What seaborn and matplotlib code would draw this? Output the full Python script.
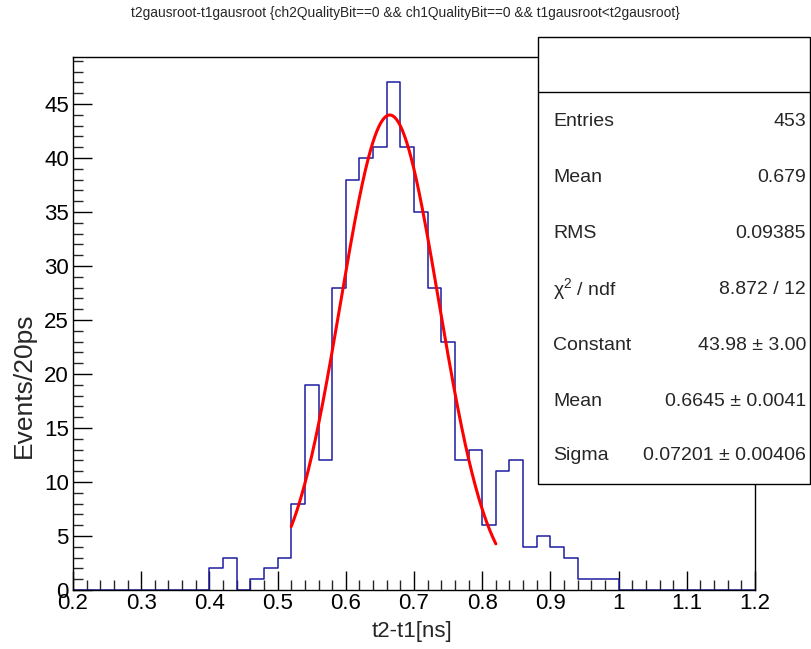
import numpy as np
import pandas as pd
import matplotlib
matplotlib.use("Agg")
import matplotlib.pyplot as plt
from matplotlib.patches import Rectangle
from matplotlib.ticker import MultipleLocator, FuncFormatter
import seaborn as sns

# ---- data ----
bin_lo = 0.2
bin_hi = 1.2
bin_width = 0.02
# counts for bins starting at 0.40 ... 0.98 (all other bins are empty)
first_filled_bin = 0.40
counts = [2, 3, 0, 1, 2, 3, 8, 19, 12, 28,
          38, 40, 41, 47, 41, 35, 28, 23, 12, 13,
          6, 11, 12, 4, 5, 4, 3, 1, 1, 1]
# gaussian fit parameters (from stats box) and fit range
fit_const = 43.98
fit_mean = 0.6645
fit_sigma = 0.07201
fit_range = (0.52, 0.82)

stats_labels = ["Entries", "Mean", "RMS", "χ$^{2}$ / ndf", "Constant", "Mean", "Sigma"]
stats_values = ["453", "0.679", "0.09385", "8.872 / 12", "43.98 ± 3.00",
                "0.6645 ± 0.0041", "0.07201 ± 0.00406"]

title = "t2gausroot-t1gausroot {ch2QualityBit==0 && ch1QualityBit==0 && t1gausroot<t2gausroot}"
xlabel = "t2-t1[ns]"
ylabel = "Events/20ps"

# ---- build table ----
nbins = int(round((bin_hi - bin_lo) / bin_width))
edges = bin_lo + bin_width * np.arange(nbins + 1)
centers = 0.5 * (edges[:-1] + edges[1:])
weights = np.zeros(nbins)
start = int(round((first_filled_bin - bin_lo) / bin_width))
weights[start:start + len(counts)] = counts
df = pd.DataFrame({"x": centers, "w": weights})

xf = np.linspace(fit_range[0], fit_range[1], 300)
fit_df = pd.DataFrame({"x": xf,
                       "y": fit_const * np.exp(-0.5 * ((xf - fit_mean) / fit_sigma) ** 2)})

# ---- plot ----
sns.set_theme(style="ticks")
plt.rcParams["font.family"] = ["Liberation Sans", "DejaVu Sans"]
plt.rcParams["mathtext.fontset"] = "custom"
plt.rcParams["mathtext.rm"] = "Liberation Sans"
plt.rcParams["mathtext.it"] = "Liberation Sans:italic"

fig = plt.figure(figsize=(8.11, 6.49), dpi=100)
ax = fig.add_axes([73 / 811, 1 - 590 / 649, (755 - 73) / 811, (590 - 57) / 649])

sns.histplot(data=df, x="x", weights="w", bins=nbins, binrange=(bin_lo, bin_hi),
             element="step", fill=False, color="#1c1ca0", linewidth=1.1, ax=ax)
sns.lineplot(data=fit_df, x="x", y="y", color="#ff0000", linewidth=2.2, ax=ax)

ax.set_xlim(bin_lo, bin_hi)
ax.set_ylim(0, 47 * 1.05)
ax.xaxis.set_major_locator(MultipleLocator(0.1))
ax.xaxis.set_minor_locator(MultipleLocator(0.02))
ax.yaxis.set_major_locator(MultipleLocator(5))
ax.yaxis.set_minor_locator(MultipleLocator(1))
ax.tick_params(axis="both", which="major", direction="in", length=14, width=1,
               labelsize=16, colors="black")
ax.tick_params(axis="both", which="minor", direction="in", length=7, width=1)
ax.tick_params(axis="x", pad=2)
ax.tick_params(axis="y", pad=3)
ax.xaxis.set_major_formatter(FuncFormatter(
    lambda v, p: "1" if abs(v - 1) < 1e-9 else f"{v:.1f}"))
ax.set_xlim(bin_lo, bin_hi)
for s in ax.spines.values():
    s.set_visible(True)
    s.set_linewidth(1)
    s.set_color("black")

ax.set_xlabel(xlabel, fontsize=16)
ax.set_ylabel(ylabel, fontsize=19)
ax.xaxis.set_label_coords(0.497, -0.058)
ax.yaxis.set_label_coords(-0.054, 0.385)

fig.text(0.5, 1 - 13 / 649, title, ha="center", va="center", fontsize=9.9)

# stats box
x0, x1 = 538 / 811, 810 / 811
ytop, ybot = 1 - 37 / 649, 1 - 484 / 649
box = Rectangle((x0, ybot), x1 - x0, ytop - ybot, transform=fig.transFigure,
                facecolor="white", edgecolor="black", linewidth=1, zorder=10)
fig.patches.append(box)
fig.lines.append(plt.Line2D([x0, x1], [1 - 92 / 649] * 2, transform=fig.transFigure,
                            color="black", linewidth=1, zorder=11))
row_y = [121, 177, 233, 289, 345, 401, 455]
for lab, val, yy in zip(stats_labels, stats_values, row_y):
    fig.text(553 / 811, 1 - yy / 649, lab, ha="left", va="center", fontsize=14, zorder=12)
    fig.text(806 / 811, 1 - yy / 649, val, ha="right", va="center", fontsize=14, zorder=12)

fig.savefig("out.png", dpi=100)
